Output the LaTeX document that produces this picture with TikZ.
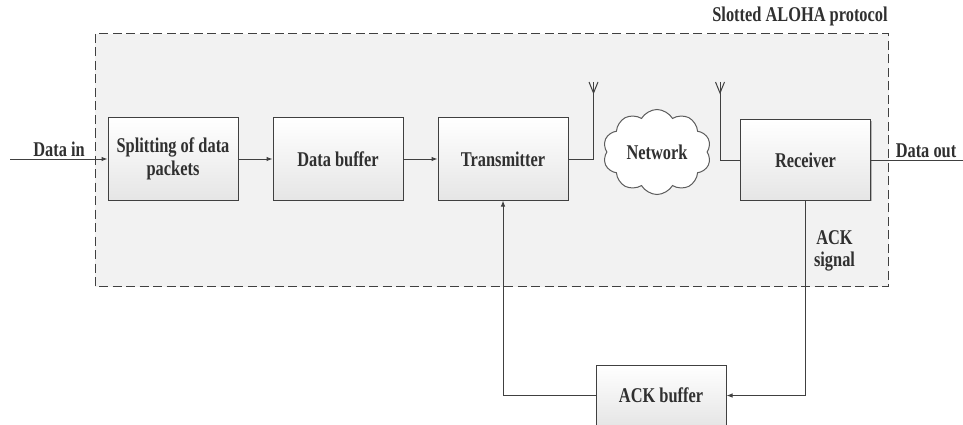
\documentclass[tikz,border=0pt]{standalone}
\usepackage{fontspec}
\setmainfont{Liberation Serif}[FakeStretch=0.78]
\usetikzlibrary{arrows.meta,shapes.symbols,shadows}
\definecolor{txt}{HTML}{303030}
\definecolor{edge}{HTML}{404040}
\definecolor{areafill}{HTML}{F2F2F2}
\tikzset{
  blk/.style={draw=edge, line width=1pt, shading=axis, top color=white, bottom color=black!10,
    minimum width=130pt, minimum height=82pt, inner sep=2pt, align=center,
    font=\fontsize{21}{22.5}\selectfont\bfseries, text=txt,
    drop shadow={shadow xshift=1pt, shadow yshift=-1pt, opacity=0.25, fill=black}},
  lbl/.style={font=\fontsize{21}{21.5}\selectfont\bfseries, text=txt, align=center, inner sep=0pt},
  wire/.style={draw=edge, line width=1pt},
  arr/.style={wire, -{Latex[length=6pt,width=4.5pt]}},
}
\begin{document}
\begin{tikzpicture}[x=1pt,y=-1pt]
\useasboundingbox (0,0) rectangle (963,425);
\fill[white] (0,0) rectangle (963,425);
% outer dashed area
\draw[draw=edge, line width=1pt, fill=areafill, dash pattern=on 9pt off 4.5pt] (95,34) rectangle (888.5,286.5);
\node[lbl] (title) at (800,16) {Slotted ALOHA protocol};
% blocks
\node[blk] (split) at (173,159) {Splitting of data\\packets};
\node[blk] (buf) at (338,159) {Data buffer};
\node[blk] (tx) at (503,159) {Transmitter};
\node[blk, minimum height=80pt] (rx) at (805.5,160) {Receiver};
\node[blk, minimum height=61pt] (ack) at (661,395.5) {ACK buffer};
\node[cloud, cloud puffs=10, cloud puff arc=120, aspect=1.3, draw=edge!85, line width=1pt, fill=white,
  minimum width=108pt, minimum height=85pt, font=\fontsize{21}{22}\selectfont\bfseries, text=txt, inner sep=0pt]
  (net) at (657,152) {Network};
% inputs / outputs
\coordinate (din) at (10,159);
\coordinate (dout) at (963,160);
\draw[arr] (din) -- (split.west);
\node[lbl] (dinl) at (59,149) {Data in};
\draw[wire] (rx.east) -- (dout);
\node[lbl] (doutl) at (926,151) {Data out};
\draw[arr] (split.east) -- (buf.west);
\draw[arr] (buf.east) -- (tx.west);
% antennas
\coordinate (ta) at (593.5,82);
\coordinate (ra) at (720,82);
\draw[wire] (tx.east) -| (ta);
\draw[wire] ([xshift=-4.5pt]ta) -- ([yshift=-11pt]ta) -- ([xshift=4.5pt]ta);
\draw[wire] (ra) |- (rx.west);
\draw[wire] ([xshift=-4.5pt]ra) -- ([yshift=-11pt]ra) -- ([xshift=4.5pt]ra);
% feedback
\draw[arr] (rx.south) |- (ack.east);
\draw[arr] (ack.west) -| (tx.south);
\node[lbl] (ackl) at (834.5,251) {ACK\\signal};
\end{tikzpicture}
\end{document}
